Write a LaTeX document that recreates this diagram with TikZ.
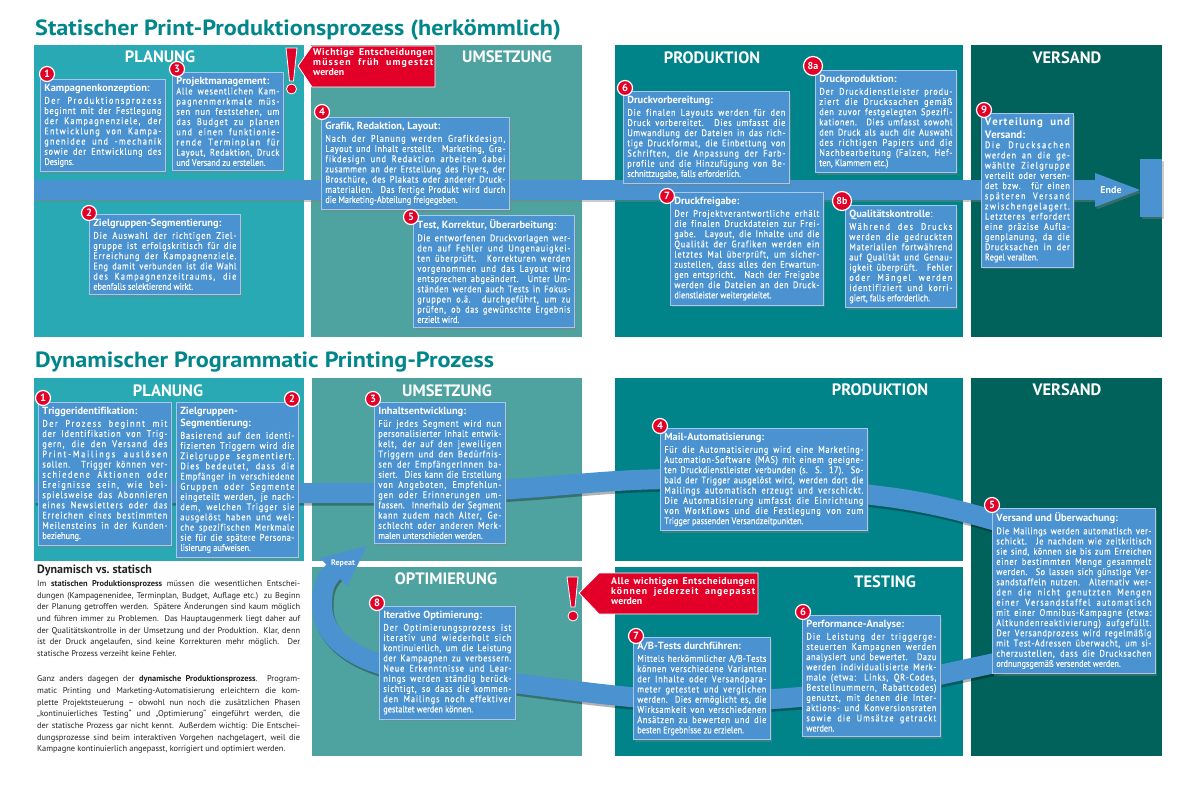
\documentclass[tikz,border=0pt]{standalone}
\usepackage{fontspec}
\setmainfont{PT Sans}
\newfontfamily\boxfont{PT Sans}[FakeStretch=0.86,FakeBold=0.5]
\newfontfamily\headfont{PT Sans}[FakeStretch=1.1]
\usetikzlibrary{shadows}
\definecolor{titleteal}{RGB}{0,134,139}
\definecolor{planungcol}{RGB}{40,169,180}
\definecolor{umsetzcol}{RGB}{78,162,159}
\definecolor{prodcol}{RGB}{0,132,137}
\definecolor{versandcol}{RGB}{0,98,90}
\definecolor{boxblue}{RGB}{74,146,208}
\definecolor{boxline}{RGB}{168,200,234}
\definecolor{alertred}{RGB}{226,0,40}
\definecolor{bodytext}{RGB}{35,35,35}
\newcommand{\btitle}[1]{{\rmfamily\bfseries\fontsize{10.4}{12}\selectfont #1\par}\vspace{2.3pt}}
\newcommand{\spreadletters}{\XeTeXinterchartokenstate=1\relax}
\XeTeXinterchartoks 0 0 = {\nobreak\hskip 0pt plus 0.3pt\relax}
\hyphenpenalty=10000
\tikzset{
  panel/.style={fill=#1},
  phase/.style={text=white, inner sep=0pt, font=\bfseries\fontsize{16.5}{16.5}\selectfont},
  infobox/.style={anchor=north west, fill=boxblue, draw=boxline, line width=0.7pt,
    text=white, align=justify, inner xsep=4pt, inner ysep=4.5pt,
    font=\boxfont\fontsize{9.6}{10.2}\selectfont\spreadletters,
    drop shadow={shadow xshift=2pt, shadow yshift=-2.5pt, opacity=0.4}},
  badge/.style={circle, fill=alertred, draw=white, line width=1.2pt, text=white,
    inner sep=0pt, minimum size=15pt, font=\bfseries\fontsize{10.5}{10.5}\selectfont},
  badgewide/.style={badge, minimum size=19pt, font=\bfseries\fontsize{10}{10}\selectfont},
  callout/.style={fill=alertred, draw=white, line width=0.8pt},
  callouttext/.style={anchor=north west, text=white, align=justify, inner sep=0pt,
    font=\bfseries\fontsize{9.8}{10}\selectfont\spreadletters},
  band/.style={fill=boxblue, drop shadow={shadow xshift=1.5pt, shadow yshift=-2.5pt, opacity=0.4}},
  loopband/.style={draw=boxblue, line width=20pt,
    preaction={draw=black, opacity=0.3, line width=20pt,
      transform canvas={xshift=1.5pt, yshift=-2.5pt}}}
}
\begin{document}
\begin{tikzpicture}[x=1pt,y=-1pt]
  \fill[white] (0,0) rectangle (1200,786);
  \useasboundingbox (0,0) rectangle (1200,786);

  \node[anchor=base west, inner sep=0pt, text=titleteal, font=\headfont\bfseries\fontsize{22}{22}\selectfont]
    (title1) at (35,36) {Statischer Print-Produktionsprozess (herkömmlich)};
  \node[anchor=base west, inner sep=0pt, text=titleteal, font=\headfont\bfseries\fontsize{22}{22}\selectfont]
    (title2) at (35,368) {Dynamischer Programmatic Printing-Prozess};

  \fill[panel=planungcol] (34,45) rectangle (304,337);
  \fill[panel=umsetzcol] (311,45) rectangle (582,337);
  \fill[panel=prodcol] (615,45) rectangle (963,337);
  \fill[panel=versandcol] (971,45) rectangle (1162,337);

  \fill[panel=planungcol] (34,378) rectangle (304,561);
  \fill[panel=umsetzcol] (312,378) rectangle (582,561);
  \fill[panel=prodcol] (615,378) rectangle (963,561);
  \fill[panel=versandcol] (971,378) rectangle (1162,756);
  \fill[panel=umsetzcol] (312,567) rectangle (582,756);
  \fill[panel=prodcol] (615,567) rectangle (963,756);

  \node[phase] (p1) at (160,57) {PLANUNG};
  \node[phase] (p2) at (507,57) {UMSETZUNG};
  \node[phase] (p3) at (712,58) {PRODUKTION};
  \node[phase] (p4) at (1067,58) {VERSAND};
  \node[phase] (q1) at (168,391) {PLANUNG};
  \node[phase] (q2) at (447,391) {UMSETZUNG};
  \node[phase] (q3) at (880,390) {PRODUKTION};
  \node[phase] (q4) at (1067,390) {VERSAND};
  \node[phase] (q5) at (446,579) {OPTIMIERUNG};
  \node[phase] (q6) at (885,582) {TESTING};

  \fill[band] (34,180) rectangle (1096,200);
  \fill[band] (1095,173) -- (1140,190) -- (1095,207) -- cycle;
  \fill[band] (1140,159) rectangle (1162,217);
  \node[text=white, font=\bfseries\fontsize{10}{10}\selectfont] (ende) at (1111,190) {Ende};

  \draw[loopband] (34,493) -- (380,493)
    .. controls (540,493) and (580,479) .. (680,479)
    .. controls (790,479) and (830,490) .. (880,496)
    .. controls (930,502) and (965,512) .. (1000,522)
    .. controls (1090,552) and (1090,640) .. (1000,662)
    .. controls (960,670) and (880,690) .. (800,697)
    .. controls (720,704) and (660,700) .. (620,696)
    .. controls (560,690) and (470,676) .. (420,672)
    .. controls (360,666) and (322,640) .. (322,605)
    .. controls (322,590) and (324,581) .. (334,571);
  \fill[boxblue] (320,558) -- (367,546) -- (347,586) -- cycle;
  \node[text=white, font=\bfseries\fontsize{8}{8}\selectfont] (repeat) at (343,563) {Repeat};

  \fill[callout] (298,66) -- (312,46) -- (435,46) -- (435,87) -- (312,87) -- cycle;
  \node[callouttext, text width=120pt] (warn1) at (313,48)
    {Wichtige Entscheidungen\linebreak müssen früh umgestzt\linebreak werden};
  \filldraw[callout] (286,48) -- (297,48) -- (293.5,81) -- (289.5,81) -- cycle;
  \filldraw[callout] (291.5,89) circle (5pt);

  \fill[callout] (579,593) -- (599,573) -- (758,573) -- (758,614) -- (599,614) -- cycle;
  \node[callouttext, text width=144pt] (warn2) at (611,577)
    {Alle wichtigen Entscheidungen\linebreak können jederzeit angepasst\linebreak werden};
  \filldraw[callout] (567,577) -- (578,577) -- (575,607) -- (571,607) -- cycle;
  \filldraw[callout] (573,616) circle (5pt);

  \node[infobox, text width=117pt] (k1) at (40,79) {\btitle{Kampagnenkonzeption:}
    Der Produktionsprozess\linebreak beginnt mit der Festlegung\linebreak der Kampagnenziele, der\linebreak
    Entwicklung von Kampa-\linebreak gnenidee und -mechanik\linebreak sowie der Entwicklung des\linebreak Designs.};
  \node[infobox, text width=143pt] (k2) at (89,214) {\btitle{Zielgruppen-Segmentierung:}
    Die Auswahl der richtigen Ziel-\linebreak gruppe ist erfolgskritisch für die\linebreak
    Erreichung der Kampagnenziele.\linebreak Eng damit verbunden ist die Wahl\linebreak
    des Kampagnenzeitraums, die\linebreak ebenfalls selektierend wirkt.};
  \node[infobox, text width=103pt] (k3) at (172,72) {{\rmfamily\bfseries\fontsize{10.4}{10}\selectfont Projektmanagement:\par}
    Alle wesentlichen Kam-\linebreak pagnenmerkmale müs-\linebreak sen nun feststehen, um\linebreak
    das Budget zu planen\linebreak und einen funktionie-\linebreak rende Terminplan für\linebreak
    Layout, Redaktion, Druck\linebreak und Versand zu erstellen.};
  \node[infobox, text width=180pt] (k4) at (321,117) {\btitle{Grafik, Redaktion, Layout:}
    Nach der Planung werden Grafikdesign,\linebreak Layout und Inhalt erstellt. Marketing, Gra-\linebreak
    fikdesign und Redaktion arbeiten dabei\linebreak zusammen an der Erstellung des Flyers, der\linebreak
    Broschüre, des Plakats oder anderer Druck-\linebreak materialien. Das fertige Produkt wird durch\linebreak
    die Marketing-Abteilung freigegeben.};
  \node[infobox, text width=153pt] (k5) at (413,215) {\btitle{Test, Korrektur, Überarbeitung:}
    Die entworfenen Druckvorlagen wer-\linebreak den auf Fehler und Ungenauigkei-\linebreak
    ten überprüft. Korrekturen werden\linebreak vorgenommen und das Layout wird\linebreak
    entsprechen abgeändert. Unter Um-\linebreak ständen werden auch Tests in Fokus-\linebreak
    gruppen o.ä. durchgeführt, um zu\linebreak prüfen, ob das gewünschte Ergebnis\linebreak erzielt wird.};
  \node[infobox, text width=158pt] (k6) at (623,91) {\btitle{Druckvorbereitung:}
    Die finalen Layouts werden für den\linebreak Druck vorbereitet. Dies umfasst die\linebreak
    Umwandlung der Dateien in das rich-\linebreak tige Druckformat, die Einbettung von\linebreak
    Schriften, die Anpassung der Farb-\linebreak profile und die Hinzufügung von Be-\linebreak
    schnittzugabe, falls erforderlich.};
  \node[infobox, text width=145pt] (k7) at (670,192) {\btitle{Druckfreigabe:}
    Der Projektverantwortliche erhält\linebreak die finalen Druckdateien zur Frei-\linebreak
    gabe. Layout, die Inhalte und die\linebreak Qualität der Grafiken werden ein\linebreak
    letztes Mal überprüft, um sicher-\linebreak zustellen, dass alles den Erwartun-\linebreak
    gen entspricht. Nach der Freigabe\linebreak werden die Dateien an den Druck-\linebreak
    dienstleister weitergeleitet.};
  \node[infobox, text width=133pt] (k8a) at (815,70) {\btitle{Druckproduktion:}
    Der Druckdienstleister produ-\linebreak ziert die Drucksachen gemäß\linebreak
    den zuvor festgelegten Spezifi-\linebreak kationen. Dies umfasst sowohl\linebreak
    den Druck als auch die Auswahl\linebreak des richtigen Papiers und die\linebreak
    Nachbearbeitung (Falzen, Hef-\linebreak ten, Klammern etc.)};
  \node[infobox, text width=103pt] (k8b) at (845,205) {\btitle{Qualitätskontrolle{\mdseries:}}
    Während des Drucks\linebreak werden die gedruckten\linebreak Materialien fortwährend\linebreak
    auf Qualität und Genau-\linebreak igkeit überprüft. Fehler\linebreak oder Mängel werden\linebreak
    identifiziert und korri-\linebreak giert, falls erforderlich.};
  \node[infobox, text width=85pt, inner xsep=3.5pt] (k9) at (981,113)
    {{\rmfamily\bfseries\fontsize{10.8}{12.5}\selectfont Verteilung und\linebreak Versand:\par}
    Die Drucksachen\linebreak werden an die ge-\linebreak wählte Zielgruppe\linebreak
    verteilt oder versen-\linebreak det bzw. für einen\linebreak späteren Versand\linebreak
    zwischengelagert.\linebreak Letzteres erfordert\linebreak eine präzise Aufla-\linebreak
    genplanung, da die\linebreak Drucksachen in der\linebreak Regel veralten.};

  \node[infobox, text width=125pt] (d1) at (38,402) {\btitle{Triggeridentifikation:}
    Der Prozess beginnt mit\linebreak der Identifikation von Trig-\linebreak gern, die den Versand des\linebreak
    Print-Mailings auslösen\linebreak sollen. Trigger können ver-\linebreak schiedene Aktionen oder\linebreak
    Ereignisse sein, wie bei-\linebreak spielsweise das Abonnieren\linebreak eines Newsletters oder das\linebreak
    Erreichen eines bestimmten\linebreak Meilensteins in der Kunden-\linebreak beziehung.};
  \node[infobox, text width=114pt] (d2) at (176,402) {\btitle{Zielgruppen-\hfil\break Segmentierung:}
    Basierend auf den identi-\linebreak fizierten Triggern wird die\linebreak Zielgruppe segmentiert.\linebreak
    Dies bedeutet, dass die\linebreak Empfänger in verschiedene\linebreak Gruppen oder Segmente\linebreak
    eingeteilt werden, je nach-\linebreak dem, welchen Trigger sie\linebreak ausgelöst haben und wel-\linebreak
    che spezifischen Merkmale\linebreak sie für die spätere Persona-\linebreak lisierung aufweisen.};
  \node[infobox, text width=123pt] (d3) at (374,402) {\btitle{Inhaltsentwicklung:}
    Für jedes Segment wird nun\linebreak personalisierter Inhalt entwik-\linebreak kelt, der auf den jeweiligen\linebreak
    Triggern und den Bedürfnis-\linebreak sen der EmpfängerInnen ba-\linebreak siert. Dies kann die Erstellung\linebreak
    von Angeboten, Empfehlun-\linebreak gen oder Erinnerungen um-\linebreak fassen. Innerhalb der Segment\linebreak
    kann zudem nach Alter, Ge-\linebreak schlecht oder anderen Merk-\linebreak malen unterschieden werden.};
  \node[infobox, text width=199pt] (d4) at (660,428) {\btitle{Mail-Automatisierung:}
    Für die Automatisierung wird eine Marketing-\linebreak Automation-Software (MAS) mit einem geeigne-\linebreak
    ten Druckdienstleister verbunden (s. S. 17). So-\linebreak bald der Trigger ausgelöst wird, werden dort die\linebreak
    Mailings automatisch erzeugt und verschickt.\linebreak Die Automatisierung umfasst die Einrichtung\linebreak
    von Workflows und die Festlegung von zum\linebreak Trigger passenden Versandzeitpunkten.};
  \node[infobox, text width=155pt] (d5) at (992,508) {\btitle{Versand und Überwachung:}
    Die Mailings werden automatisch ver-\linebreak schickt. Je nachdem wie zeitkritisch\linebreak
    sie sind, können sie bis zum Erreichen\linebreak einer bestimmten Menge gesammelt\linebreak
    werden. So lassen sich günstige Ver-\linebreak sandstaffeln nutzen. Alternativ wer-\linebreak
    den die nicht genutzten Mengen\linebreak einer Versandstaffel automatisch\linebreak
    mit einer Omnibus-Kampagne (etwa:\linebreak Altkundenreaktivierung) aufgefüllt.\linebreak
    Der Versandprozess wird regelmäßig\linebreak mit Test-Adressen überwacht, um si-\linebreak
    cherzustellen, dass die Drucksachen\linebreak ordnungsgemäß versendet werden.\parfillskip=0pt};
  \node[infobox, text width=130pt] (d6) at (802,615) {\btitle{Performance-Analyse:}
    Die Leistung der triggerge-\linebreak steuerten Kampagnen werden\linebreak analysiert und bewertet. Dazu\linebreak
    werden individualisierte Merk-\linebreak male (etwa: Links, QR-Codes,\linebreak Bestellnummern, Rabattcodes)\linebreak
    genutzt, mit denen die Inter-\linebreak aktions- und Konversionsraten\linebreak sowie die Umsätze getrackt\linebreak werden.};
  \node[infobox, text width=129pt] (d7) at (633,637) {\btitle{A/B-Tests durchführen:}
    Mittels herkömmlicher A/B-Tests\linebreak können verschiedene Varianten\linebreak der Inhalte oder Versandpara-\linebreak
    meter getestet und verglichen\linebreak werden. Dies ermöglicht es, die\linebreak Wirksamkeit von verschiedenen\linebreak
    Ansätzen zu bewerten und die\linebreak besten Ergebnisse zu erzielen.};
  \node[infobox, text width=128pt] (d8) at (379,606) {\btitle{Iterative Optimierung:}
    Der Optimierungsprozess ist\linebreak iterativ und wiederholt sich\linebreak kontinuierlich, um die Leistung\linebreak
    der Kampagnen zu verbessern.\linebreak Neue Erkenntnisse und Lear-\linebreak nings werden ständig berück-\linebreak
    sichtigt, so dass die kommen-\linebreak den Mailings noch effektiver\linebreak gestaltet werden können.};

  \node[badge] (b1) at (47,74) {1};
  \node[badge] (b2) at (89,213) {2};
  \node[badge] (b3) at (177,69) {3};
  \node[badge] (b4) at (322,112) {4};
  \node[badge] (b5) at (411,217) {5};
  \node[badge] (b6) at (625,88) {6};
  \node[badge] (b7) at (667,196) {7};
  \node[badgewide] (b8a) at (813,66) {8a};
  \node[badgewide] (b8b) at (842,201) {8b};
  \node[badge] (b9) at (984,110) {9};

  \node[badge] (c1) at (43,398) {1};
  \node[badge] (c2) at (292,399) {2};
  \node[badge] (c3) at (373,399) {3};
  \node[badge] (c4) at (660,426) {4};
  \node[badge] (c5) at (992,505) {5};
  \node[badge] (c6) at (803,612) {6};
  \node[badge] (c7) at (636,636) {7};
  \node[badge] (c8) at (377,603) {8};

  \node[anchor=north west, text width=263pt, align=justify, inner sep=0pt, text=bodytext,
    font=\fontsize{8.4}{11.7}\selectfont] (note) at (37,565)
    {{\bfseries\fontsize{12}{14}\selectfont Dynamisch vs.\ statisch\par}\vspace{1pt}
    Im \textbf{statischen Produktionsprozess} müssen die wesentlichen Entschei-\linebreak
    dungen (Kampagenenidee, Terminplan, Budget, Auflage etc.) zu Beginn\linebreak
    der Planung getroffen werden. Spätere Änderungen sind kaum möglich\linebreak
    und führen immer zu Problemen. Das Hauptaugenmerk liegt daher auf\linebreak
    der Qualitätskontrolle in der Umsetzung und der Produktion. Klar, denn\linebreak
    ist der Druck angelaufen, sind keine Korrekturen mehr möglich. Der\linebreak
    statische Prozess verzeiht keine Fehler.\par\vspace{13.3pt}
    Ganz anders dagegen der \textbf{dynamische Produktionsprozess}. Program-\linebreak
    matic Printing und Marketing-Automatisierung erleichtern die kom-\linebreak
    plette Projektsteuerung – obwohl nun noch die zusätzlichen Phasen\linebreak
    „kontinuierliches Testing“ und „Optimierung“ eingeführt werden, die\linebreak
    der statische Prozess gar nicht kennt. Außerdem wichtig: Die Entschei-\linebreak
    dungsprozesse sind beim interaktiven Vorgehen nachgelagert, weil die\linebreak
    Kampagne kontinuierlich angepasst, korrigiert und optimiert werden.\parfillskip=0pt};
\end{tikzpicture}
\end{document}
